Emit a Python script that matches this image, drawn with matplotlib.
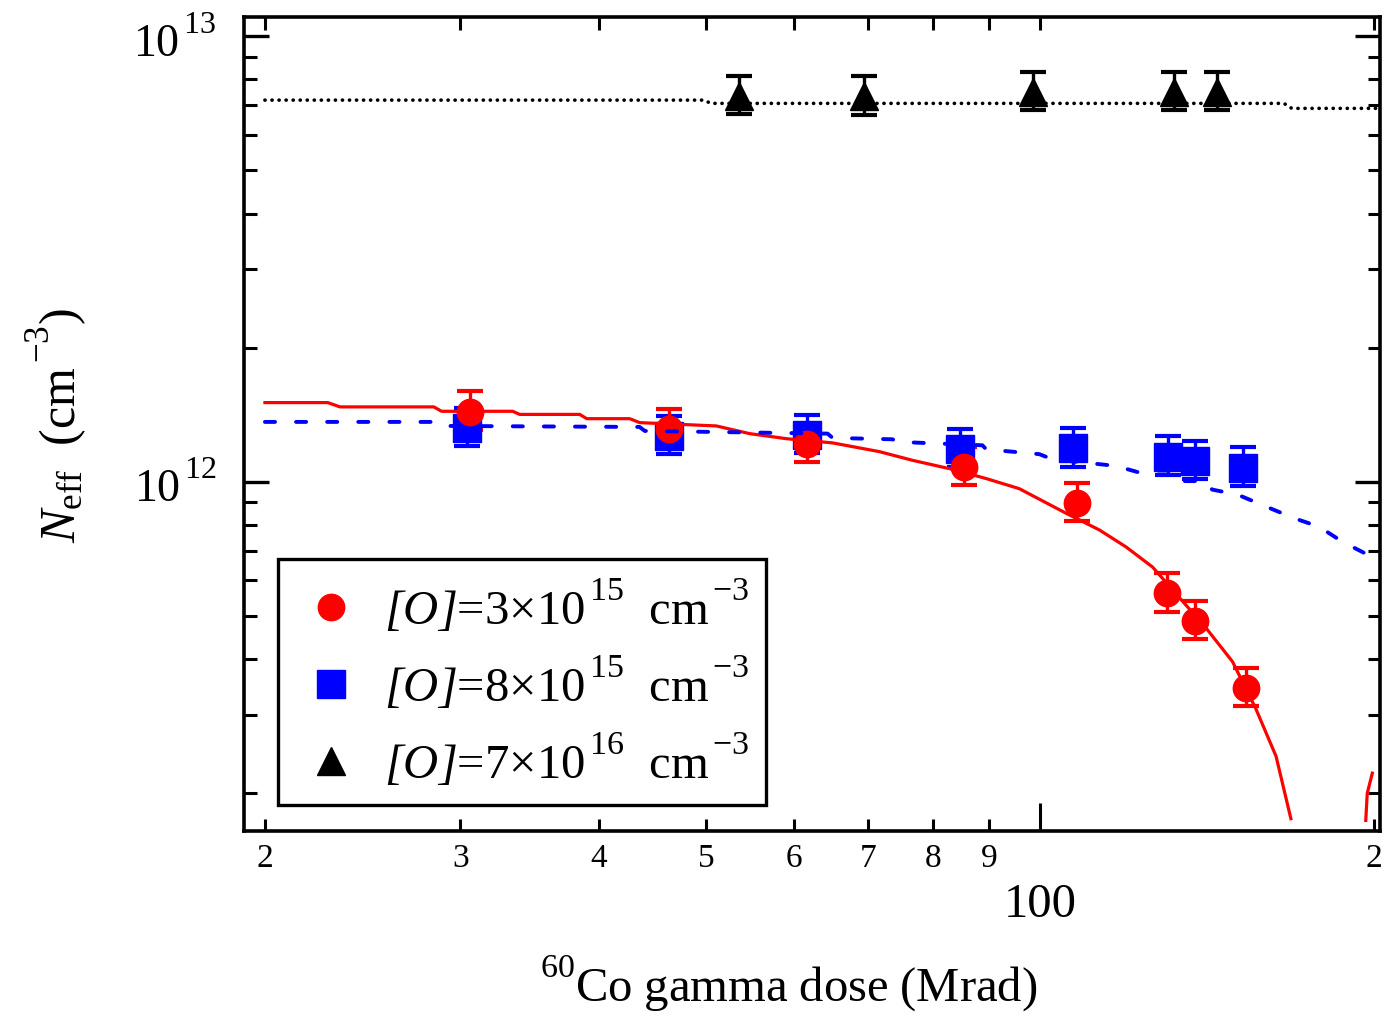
import numpy as np
import matplotlib
matplotlib.use('Agg')
import matplotlib.pyplot as plt
from matplotlib.lines import Line2D
from matplotlib.ticker import FixedLocator, NullLocator, FixedFormatter

plt.rcParams['font.family'] = ['Liberation Serif', 'DejaVu Serif']
plt.rcParams['mathtext.fontset'] = 'custom'
plt.rcParams['mathtext.rm'] = 'Liberation Serif'
plt.rcParams['mathtext.it'] = 'Liberation Serif:italic'
plt.rcParams['mathtext.sf'] = 'Liberation Serif:italic'
plt.rcParams['mathtext.bf'] = 'Liberation Serif:bold'
try:
    import matplotlib._mathtext as _mt
    _mt.FontConstantsBase.sup1 = 1.1
except Exception:
    pass

# ---------------- data ----------------
red_dose = [30.6, 46.3, 61.6, 85.4, 108.0, 130.1, 137.9, 153.2]
red_neff = [1.436e12, 1.31e12, 1.217e12, 1.078e12, 8.97e11, 5.61e11, 4.86e11, 3.44e11]

blue_dose = [30.4, 46.3, 61.6, 84.7, 107.1, 130.4, 138.0, 152.3]
blue_neff = [1.32e12, 1.265e12, 1.272e12, 1.183e12, 1.188e12, 1.138e12, 1.114e12, 1.076e12]

black_dose = [53.5, 69.4, 98.6, 132.1, 144.4]
black_neff = [7.34e12, 7.33e12, 7.50e12, 7.50e12, 7.50e12]

err_lo = 0.09   # relative lower error
err_hi = 0.11   # relative upper error

# model curves
red_fit_dose = [20.0, 22.79, 23.37, 28.40, 28.86, 33.45, 33.94, 38.45, 39.01, 42.65,
                43.54, 51.05, 54.71, 59.03, 64.99, 71.62, 76.70, 83.33, 89.43, 95.76,
                105.5, 113.1, 119.5, 126.3, 133.5, 141.1, 149.1, 156.5, 163.2, 168.3]
red_fit_neff = [1.505e12, 1.505e12, 1.472e12, 1.472e12, 1.439e12, 1.439e12, 1.416e12,
                1.416e12, 1.385e12, 1.385e12, 1.357e12, 1.334e12, 1.282e12, 1.249e12,
                1.222e12, 1.168e12, 1.117e12, 1.066e12, 1.016e12, 9.645e11, 8.497e11,
                7.789e11, 7.138e11, 6.430e11, 5.494e11, 4.694e11, 3.943e11, 3.090e11,
                2.417e11, 1.751e11]
red_fit2_dose = [196.6, 197.2, 199.3]
red_fit2_neff = [1.735e11, 1.995e11, 2.216e11]

blue_fit_dose = [20.0, 28.75, 29.17, 43.54, 44.00, 64.32, 64.99, 73.58, 74.66, 88.69,
                 89.43, 99.82, 102.55, 117.0, 124.6, 133.5, 134.3, 141.1, 142.9, 150.6,
                 159.7, 169.4, 178.4, 187.3, 196.6, 202.1]
blue_fit_neff = [1.362e12, 1.362e12, 1.334e12, 1.327e12, 1.300e12, 1.282e12, 1.254e12,
                 1.245e12, 1.228e12, 1.207e12, 1.182e12, 1.153e12, 1.123e12, 1.085e12,
                 1.038e12, 1.038e12, 1.003e12, 1.003e12, 9.60e11, 9.355e11, 8.80e11,
                 8.28e11, 7.925e11, 7.33e11, 6.89e11, 6.68e11]

black_fit_dose = [20.0, 49.72, 50.5, 165.9, 168.6, 202.1]
black_fit_neff = [7.19e12, 7.19e12, 7.07e12, 7.07e12, 6.89e12, 6.89e12]

x_ticks = [20, 30, 40, 50, 60, 70, 80, 90, 100, 200]
x_ticklabels = ['2', '3', '4', '5', '6', '7', '8', '9', '', '2']
y_ticks = [1e12, 1e13]
y_ticklabels = [r'$\mathregular{10^{\,12}}$', r'$\mathregular{10^{\,13}}$']
legend_labels = [r'$\mathsf{[O]}$=3×10$^{\,15}$  cm$^{\,{-}3}$',
                 r'$\mathsf{[O]}$=8×10$^{\,15}$  cm$^{\,{-}3}$',
                 r'$\mathsf{[O]}$=7×10$^{\,16}$  cm$^{\,{-}3}$']

# ---------------- figure ----------------
fig = plt.figure(figsize=(13.84, 10.2), dpi=100)
ax = fig.add_axes([244/1384, 188/1020, 1136/1384, 814/1020])
ax.set_xscale('log')
ax.set_yscale('log')


def yerr(vals):
    v = np.asarray(vals)
    return np.vstack([v * err_lo, v * err_hi])


ekw = dict(ls='none', elinewidth=2.4, capsize=9.5, capthick=3.0, zorder=2)
ax.errorbar(blue_dose, blue_neff, yerr=yerr(blue_neff), marker='s', ms=19.5,
            color='#0000ff', mec='#0000ff', **ekw)
ax.errorbar(red_dose, red_neff, yerr=yerr(red_neff), marker='o', ms=19,
            color='#ff0000', mec='#ff0000', **ekw)
ax.errorbar(black_dose, black_neff, yerr=yerr(black_neff), marker='^', ms=20,
            color='black', mec='black', **ekw)

ax.plot(red_fit_dose, red_fit_neff, color='#ff0000', lw=2.3, zorder=3)
ax.plot(red_fit2_dose, red_fit2_neff, color='#ff0000', lw=2.3, zorder=3)
ax.plot(blue_fit_dose, blue_fit_neff, color='#0000ff', lw=2.8,
        ls=(0, (2.6, 5.4)), dash_capstyle='round', zorder=3)
ax.plot(black_fit_dose, black_fit_neff, color='black', lw=2.6,
        ls=(0, (0.05, 1.9)), dash_capstyle='round', zorder=3)

ax.set_xlim(19.15, 202.5)
ax.set_ylim(1.643e11, 1.105e13)

for s in ax.spines.values():
    s.set_linewidth(2.6)

ax.xaxis.set_major_locator(FixedLocator(x_ticks))
ax.xaxis.set_major_formatter(FixedFormatter(x_ticklabels))
ax.xaxis.set_minor_locator(NullLocator())
ax.yaxis.set_major_locator(FixedLocator(y_ticks))
ax.yaxis.set_major_formatter(FixedFormatter(y_ticklabels))

ax.tick_params(axis='x', which='major', direction='in', top=True, bottom=True,
               length=9, width=2.2, labelsize=24, pad=8)
ax.tick_params(axis='y', which='major', direction='in', left=True, right=True,
               length=18, width=2.4, labelsize=33, pad=20)
ax.tick_params(axis='y', which='minor', direction='in', left=True, right=True,
               length=9, width=2.2)
ax.yaxis.set_minor_formatter(FixedFormatter([]))

# longer tick at 100
xt = ax.xaxis.get_major_ticks()
xt[8].tick1line.set_markersize(20)

ax.annotate('100', xy=(100, 0), xycoords=('data', 'axes fraction'),
            xytext=(0, -37), textcoords='offset points', ha='center', va='top',
            fontsize=35)

ax.set_ylabel(r'$\mathit{N}_{\mathregular{eff}}\mathregular{\ \ (cm^{\,{-}3})}$',
              fontsize=36, labelpad=32)
ax.set_xlabel(r'$\mathregular{^{60}Co\ gamma\ dose\ (Mrad)}$', fontsize=35)
ax.xaxis.set_label_coords(0.479, -0.15)

handles = [Line2D([], [], marker='o', color='#ff0000', ms=19, ls='none'),
           Line2D([], [], marker='s', color='#0000ff', ms=19.5, ls='none'),
           Line2D([], [], marker='^', color='black', ms=20, ls='none')]
leg = ax.legend(handles, legend_labels, loc='lower left',
                bbox_to_anchor=(0.030, 0.032), fontsize=35, frameon=True,
                fancybox=False, edgecolor='black', framealpha=1,
                handlelength=1.48, handletextpad=0.35, borderpad=0.35,
                labelspacing=0.4, borderaxespad=0)
leg.get_frame().set_linewidth(2.4)

fig.savefig('out.png', dpi=100)
